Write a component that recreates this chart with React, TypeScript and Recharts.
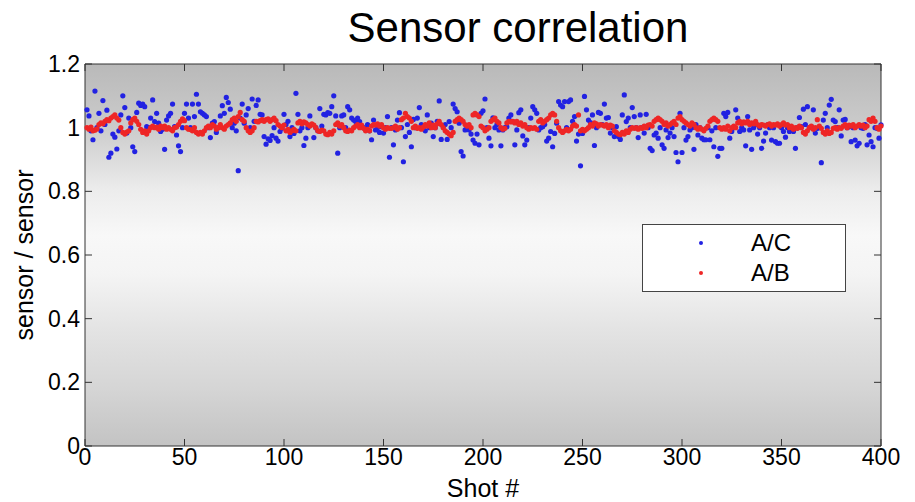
import { ScatterChart, Scatter, XAxis, YAxis, CartesianGrid, Legend } from "recharts";

const xTicks = [0, 50, 100, 150, 200, 250, 300, 350, 400];
const yTicks = [0, 0.2, 0.4, 0.6, 0.8, 1, 1.2];

// A/C ratio per shot (blue)
const acRatio = [
  1.056, 1.037, 0.990, 0.962, 1.115, 1.000, 1.045, 0.990, 1.085, 1.010,
  1.055, 0.907, 0.920, 0.980, 0.970, 0.933, 0.990, 1.040, 1.100, 1.063,
  0.983, 1.030, 1.000, 0.940, 0.925, 1.048, 1.077, 1.070, 1.074, 1.066,
  1.003, 1.000, 1.030, 1.087, 1.019, 1.045, 1.014, 0.988, 0.995, 0.932,
  1.024, 1.037, 1.045, 1.074, 1.003, 0.977, 0.943, 0.925, 1.000, 1.045,
  1.074, 1.030, 1.000, 1.074, 1.035, 1.105, 1.074, 1.050, 1.045, 1.040,
  1.035, 1.000, 0.969, 1.014, 1.019, 0.985, 1.000, 1.037, 1.069, 1.045,
  1.095, 1.079, 1.058, 1.000, 1.014, 0.990, 0.865, 1.030, 1.074, 1.014,
  1.040, 1.060, 1.000, 1.090, 1.020, 1.070, 1.087, 1.042, 1.040, 0.972,
  0.948, 0.965, 0.960, 0.975, 1.000, 0.967, 0.958, 0.988, 0.998, 1.042,
  1.010, 1.020, 0.972, 1.000, 0.982, 1.108, 1.042, 0.990, 1.000, 0.944,
  0.967, 1.000, 1.037, 1.010, 0.969, 1.000, 0.990, 1.060, 1.005, 1.042,
  1.040, 1.047, 1.045, 1.066, 1.100, 1.037, 0.920, 1.000, 1.037, 1.040,
  1.000, 1.066, 1.056, 1.030, 1.024, 1.019, 1.030, 1.019, 1.003, 1.000,
  0.998, 1.010, 0.990, 0.962, 1.024, 0.993, 1.000, 0.985, 1.003, 0.983,
  1.000, 1.035, 0.907, 1.000, 0.946, 0.993, 1.024, 1.047, 1.000, 0.893,
  0.972, 1.010, 0.985, 0.940, 1.026, 1.000, 1.030, 1.063, 1.010, 1.003,
  0.990, 1.040, 1.000, 1.014, 0.972, 1.000, 1.020, 1.084, 0.963, 1.003,
  1.010, 0.963, 1.019, 1.000, 1.074, 1.060, 1.050, 1.014, 0.925, 0.911,
  0.993, 1.000, 0.993, 0.980, 0.961, 0.951, 0.980, 0.946, 1.045, 1.053,
  1.090, 1.000, 0.967, 0.943, 1.031, 1.000, 1.010, 0.993, 0.943, 0.993,
  1.000, 1.003, 1.030, 1.040, 1.019, 0.946, 0.993, 1.047, 1.056, 0.974,
  0.946, 0.961, 1.000, 1.030, 1.066, 1.056, 1.045, 0.993, 1.000, 1.003,
  1.010, 0.958, 0.967, 0.988, 0.940, 0.982, 1.014, 1.082, 1.071, 1.066,
  1.082, 1.000, 1.082, 1.087, 1.020, 1.035, 0.958, 0.980, 0.880, 0.982,
  1.098, 1.056, 1.024, 1.016, 1.040, 0.944, 1.000, 1.048, 1.045, 1.010,
  1.074, 1.030, 1.032, 0.983, 1.000, 0.972, 1.003, 0.972, 0.963, 1.040,
  1.103, 1.019, 1.030, 1.000, 1.063, 1.035, 1.000, 0.969, 1.040, 1.000,
  0.983, 1.042, 1.000, 0.935, 0.928, 0.977, 0.983, 0.967, 1.000, 0.946,
  0.935, 0.993, 0.969, 0.983, 1.000, 0.972, 0.922, 0.893, 1.045, 0.922,
  1.000, 0.961, 0.972, 0.993, 1.000, 0.932, 1.010, 0.977, 1.000, 0.967,
  0.962, 0.962, 1.000, 0.962, 0.990, 0.940, 1.000, 0.910, 0.935, 0.935,
  1.045, 1.035, 1.048, 0.967, 0.988, 1.000, 1.056, 1.030, 0.988, 1.000,
  0.993, 0.943, 1.035, 0.993, 0.932, 1.000, 1.009, 0.980, 1.000, 0.935,
  0.958, 0.983, 1.009, 1.000, 0.961, 1.000, 0.956, 0.951, 0.951, 1.000,
  0.988, 0.970, 1.000, 0.988, 1.000, 0.988, 0.935, 1.000, 1.032, 1.003,
  1.058, 1.010, 1.066, 1.000, 1.003, 1.056, 0.983, 0.998, 1.000, 0.890,
  1.024, 1.045, 1.000, 1.071, 1.089, 1.024, 1.019, 1.000, 1.056, 0.974,
  1.024, 1.026, 1.000, 1.003, 0.956, 1.000, 0.961, 0.943, 0.951, 1.000,
  0.998, 1.010, 0.946, 0.977, 0.956, 0.940, 1.000, 0.998, 0.967, 1.009,
];

// A/B ratio per shot (red)
const abRatio = [
  1.000, 0.995, 1.002, 0.990, 0.992, 0.996, 1.010, 1.015, 1.012, 1.020,
  1.025, 1.022, 1.030, 1.035, 1.040, 1.030, 1.024, 1.000, 0.985, 0.980,
  0.986, 0.990, 1.015, 1.025, 1.030, 1.020, 1.010, 0.995, 0.985, 0.990,
  0.980, 0.990, 1.000, 1.005, 1.000, 1.002, 0.995, 1.005, 1.000, 1.005,
  0.995, 1.000, 0.995, 0.990, 1.000, 1.002, 1.010, 1.020, 1.028, 1.022,
  1.000, 0.995, 0.994, 0.990, 1.000, 0.985, 0.980, 0.985, 0.980, 0.990,
  1.000, 1.005, 1.000, 1.010, 1.005, 0.995, 1.000, 1.010, 1.000, 0.995,
  1.005, 1.010, 1.015, 1.025, 1.030, 1.020, 1.035, 1.048, 1.025, 1.020,
  1.000, 0.990, 0.985, 0.990, 1.000, 1.020, 1.018, 1.022, 1.025, 1.020,
  1.025, 1.028, 1.020, 1.025, 1.030, 1.022, 1.010, 1.005, 1.000, 1.008,
  0.990, 0.995, 0.985, 0.990, 0.995, 0.990, 1.015, 1.020, 1.012, 1.018,
  1.015, 1.010, 1.005, 1.012, 1.008, 1.000, 0.990, 0.988, 0.992, 0.990,
  0.980, 0.978, 0.985, 0.980, 0.990, 1.010, 1.015, 1.005, 1.010, 1.000,
  0.990, 0.988, 0.992, 0.990, 1.000, 1.005, 1.010, 1.000, 1.008, 0.998,
  0.990, 0.995, 0.990, 1.005, 1.010, 1.008, 1.012, 1.005, 1.010, 1.000,
  0.995, 1.000, 0.998, 0.998, 1.000, 1.005, 0.995, 1.000, 1.025, 1.030,
  1.045, 1.035, 1.030, 1.020, 1.000, 1.005, 0.998, 1.000, 0.995, 1.002,
  1.010, 1.005, 1.015, 1.000, 1.008, 1.000, 1.012, 1.020, 1.010, 1.000,
  0.990, 0.985, 0.980, 0.975, 0.985, 1.020, 1.025, 1.030, 1.025, 1.020,
  1.010, 1.005, 1.010, 1.000, 1.040, 1.045, 1.040, 1.035, 1.005, 1.000,
  0.990, 0.995, 1.000, 1.020, 1.025, 1.030, 1.020, 1.015, 1.000, 0.995,
  0.998, 1.015, 1.020, 1.018, 1.020, 1.015, 1.020, 1.010, 1.015, 1.005,
  1.010, 1.000, 0.995, 1.000, 0.998, 1.000, 0.995, 1.020, 1.025, 1.015,
  1.020, 1.025, 1.030, 1.040, 1.045, 1.040, 1.020, 1.000, 0.990, 0.985,
  0.990, 0.995, 0.990, 0.995, 1.005, 1.010, 1.005, 1.040, 0.990, 0.995,
  0.990, 0.995, 1.000, 1.010, 1.005, 1.015, 1.012, 1.005, 1.010, 1.008,
  1.005, 1.010, 1.000, 1.008, 1.005, 0.990, 0.985, 0.980, 0.978, 0.985,
  0.980, 0.990, 0.985, 0.995, 1.000, 0.998, 1.000, 0.995, 1.000, 0.998,
  1.005, 1.000, 1.008, 1.010, 1.005, 1.020, 1.025, 1.030, 1.025, 1.020,
  1.010, 1.015, 1.005, 1.010, 1.015, 1.020, 1.010, 1.030, 1.035, 1.025,
  1.020, 1.015, 1.010, 1.005, 1.015, 1.010, 1.000, 0.995, 1.000, 0.995,
  0.990, 0.998, 1.005, 1.020, 1.025, 1.030, 1.025, 1.020, 1.000, 0.995,
  1.000, 0.995, 1.005, 0.990, 1.000, 1.005, 1.000, 1.015, 1.020, 1.012,
  1.018, 1.015, 1.020, 1.010, 1.015, 1.012, 1.020, 1.010, 1.005, 1.010,
  1.008, 1.005, 1.010, 1.012, 1.005, 1.010, 1.008, 1.012, 1.005, 1.010,
  1.015, 1.008, 1.010, 1.000, 1.005, 0.995, 1.000, 0.998, 1.005, 1.000,
  0.985, 0.980, 0.990, 1.000, 1.005, 0.995, 1.000, 1.025, 1.005, 0.998,
  0.985, 0.980, 0.990, 0.982, 0.985, 0.998, 1.000, 0.995, 1.000, 0.998,
  1.005, 1.010, 1.000, 1.008, 1.005, 1.010, 1.000, 1.005, 1.010, 1.005,
  1.008, 1.000, 1.005, 1.025, 1.020, 1.030, 1.020, 1.000, 0.995, 1.005,
];

const BLUE = "#2222e2";
const RED = "#ee2626";
const AXIS = "#333333";
const FONT = "'Liberation Sans', Arial, Helvetica, sans-serif";

const acData = acRatio.map((v, i) => ({ shot: i + 1, ratio: v }));
const abData = abRatio.map((v, i) => ({ shot: i + 1, ratio: v }));

const emptyTick = () => <g />;
const noShape = () => <g />;

function dot(color: string) {
  return (p: any) => <circle cx={p.cx} cy={p.cy} r={2.6} fill={color} />;
}

function LegendBox() {
  const rows = [
    { name: "A/C", color: BLUE },
    { name: "A/B", color: RED },
  ];
  return (
    <div
      style={{
        width: 204,
        height: 68,
        boxSizing: "border-box",
        border: "1px solid #444",
        background: "#fff",
        fontFamily: FONT,
        fontSize: 24,
        color: "#000",
        paddingTop: 3,
      }}
    >
      {rows.map((r) => (
        <div
          key={r.name}
          style={{ display: "flex", alignItems: "center", height: 30 }}
        >
          <svg width={108} height={30}>
            <circle cx={58} cy={15} r={2} fill={r.color} />
          </svg>
          <span>{r.name}</span>
        </div>
      ))}
    </div>
  );
}

export default function App() {
  return (
    <div style={{ position: "absolute", left: 0, top: 0, background: "#fff" }}>
      <ScatterChart
        width={915}
        height={502}
        margin={{ top: 63, right: 33, bottom: 0, left: 0 }}
      >
        <defs>
          <linearGradient id="plotBg" x1="0" y1="0" x2="0" y2="1">
            <stop offset="0%" stopColor="#b9b9b9" />
            <stop offset="17%" stopColor="#cccccc" />
            <stop offset="33%" stopColor="#ececec" />
            <stop offset="45%" stopColor="#f8f8f8" />
            <stop offset="55%" stopColor="#f4f4f4" />
            <stop offset="70%" stopColor="#e3e3e3" />
            <stop offset="85%" stopColor="#d5d5d5" />
            <stop offset="100%" stopColor="#c3c3c3" />
          </linearGradient>
        </defs>

        <CartesianGrid
          xAxisId="x"
          yAxisId="y"
          horizontal={false}
          vertical={false}
          fill="url(#plotBg)"
        />

        {/* bottom axis: ticks point inward (negative size) */}
        <XAxis
          xAxisId="x"
          dataKey="shot"
          type="number"
          domain={[0, 400]}
          ticks={xTicks}
          interval={0}
          height={56}
          tickSize={-7}
          tickLine={{ stroke: AXIS }}
          tickMargin={10}
          axisLine={{ stroke: AXIS }}
          tick={{ fontSize: 23, fill: "#000", fontFamily: FONT }}
          label={{
            value: "Shot #",
            position: "insideBottom",
            offset: 5,
            fontSize: 25,
            fill: "#000",
            fontFamily: FONT,
          }}
        />
        {/* top box edge */}
        <XAxis
          xAxisId="xt"
          dataKey="shot"
          type="number"
          orientation="top"
          height={1}
          domain={[0, 400]}
          ticks={xTicks}
          interval={0}
          tickSize={-7}
          tickLine={{ stroke: AXIS }}
          axisLine={{ stroke: AXIS }}
          tick={emptyTick}
        />

        <YAxis
          yAxisId="y"
          dataKey="ratio"
          type="number"
          domain={[0, 1.2]}
          ticks={yTicks}
          interval={0}
          width={85}
          tickSize={-7}
          tickLine={{ stroke: AXIS }}
          tickMargin={12}
          axisLine={{ stroke: AXIS }}
          tick={{ fontSize: 23, fill: "#000", fontFamily: FONT }}
          label={{
            value: "sensor / sensor",
            angle: -90,
            position: "insideLeft",
            offset: 24,
            fontSize: 25,
            fill: "#000",
            fontFamily: FONT,
            style: { textAnchor: "middle" },
          }}
        />
        {/* right box edge */}
        <YAxis
          yAxisId="yr"
          dataKey="ratio"
          type="number"
          orientation="right"
          width={1}
          domain={[0, 1.2]}
          ticks={yTicks}
          interval={0}
          tickSize={-7}
          tickLine={{ stroke: AXIS }}
          axisLine={{ stroke: AXIS }}
          tick={emptyTick}
        />

        <Legend
          layout="horizontal"
          verticalAlign="middle"
          align="center"
          wrapperStyle={{ position: "absolute", left: 642, top: 224, width: 204 }}
          content={() => <LegendBox />}
        />

        {/* hidden series so the top/right edge axes get a domain */}
        <Scatter
          data={acData}
          xAxisId="xt"
          yAxisId="yr"
          shape={noShape}
          legendType="none"
          isAnimationActive={false}
        />
        <Scatter
          name="A/C"
          data={acData}
          xAxisId="x"
          yAxisId="y"
          shape={dot(BLUE)}
          isAnimationActive={false}
        />
        <Scatter
          name="A/B"
          data={abData}
          xAxisId="x"
          yAxisId="y"
          shape={dot(RED)}
          isAnimationActive={false}
        />

        <text
          x={518}
          y={42}
          textAnchor="middle"
          fontSize={42}
          fontFamily={FONT}
          fill="#000"
        >
          Sensor correlation
        </text>
      </ScatterChart>
    </div>
  );
}
